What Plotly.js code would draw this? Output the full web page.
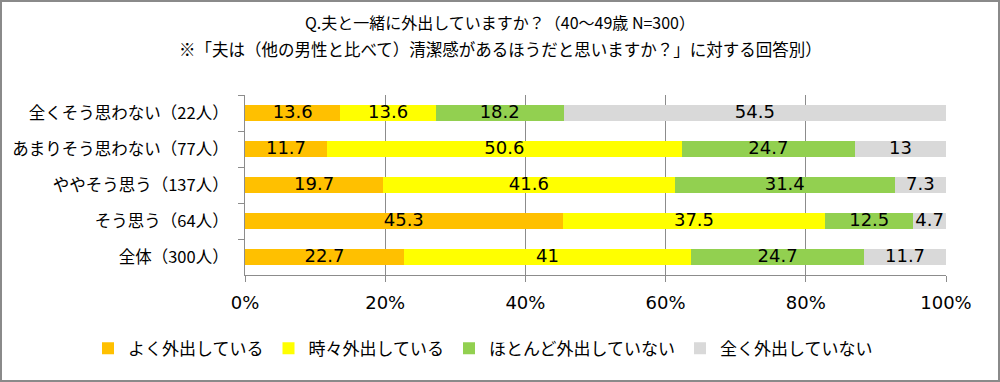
<!DOCTYPE html>
<html><head><meta charset="utf-8">
<script src="https://cdn.plot.ly/plotly-3.0.1.min.js"></script>
<style>html,body{margin:0;padding:0;background:#fff}#wrap{position:relative;width:1000px;height:382px}#frame{position:absolute;left:0;top:0;width:1000px;height:382px;box-sizing:border-box;border:2px solid #8a8a8a;pointer-events:none}</style>
</head><body><div id="wrap"><div id="chart" style="width:1000px;height:382px"></div><div id="frame"></div></div>
<script>
const titleLine1 = 'Q.夫と一緒に外出していますか？（40～49歳 N=300）';
const titleLine2 = '※「夫は（他の男性と比べて）清潔感があるほうだと思いますか？」に対する回答別）';
const categories = ['全くそう思わない（22人）','あまりそう思わない（77人）','ややそう思う（137人）','そう思う（64人）','全体（300人）'];
const seriesNames = ['よく外出している','時々外出している','ほとんど外出していない','全く外出していない'];
const often = [13.6, 11.7, 19.7, 45.3, 22.7];
const sometimes = [13.6, 50.6, 41.6, 37.5, 41];
const rarely = [18.2, 24.7, 31.4, 12.5, 24.7];
const never = [54.5, 13, 7.3, 4.7, 11.7];
const colors = ['#FFC000','#FFFF00','#92D050','#D9D9D9'];
const tickVals = [0,20,40,60,80,100];

const series = [often, sometimes, rarely, never];
const totals = categories.map((c,i)=>series.reduce((s,a)=>s+a[i],0));
const traces = [];
series.forEach((vals,k)=>{
  traces.push({type:'bar',orientation:'h',name:seriesNames[k],x:vals,y:categories,
    marker:{color:colors[k]},hoverinfo:'skip'});
});
series.forEach((vals,k)=>{
  const xs = vals.map((v,i)=>{
    let before=0; for(let j=0;j<k;j++) before+=series[j][i];
    return (before+v/2)/totals[i]*100;
  });
  traces.push({type:'scatter',mode:'text',x:xs,y:categories,text:vals.map(v=>String(v)),
    textposition:'middle center',textfont:{family:'DejaVu Sans, Verdana, sans-serif',size:18,color:'#000'},
    showlegend:false,hoverinfo:'skip'});
});
const layout = {
  width:1000,height:382,
  paper_bgcolor:'#fff',plot_bgcolor:'#fff',
  margin:{l:245,r:54,t:95,b:107},
  barmode:'stack',barnorm:'percent',bargap:0.55,
  title:{text:titleLine1,
    font:{family:'Noto Sans CJK JP',size:16,color:'#000'},x:0.5,xanchor:'center',xref:'container',y:1-23/382,yref:'container',yanchor:'middle'},
  annotations:[{text:titleLine2,xref:'paper',yref:'paper',x:(500-245)/701,y:1+(95-49)/180,xanchor:'center',yanchor:'middle',
    showarrow:false,font:{family:'Noto Sans CJK JP',size:16.5,color:'#000'}}],
  xaxis:{range:[0,100],tickvals:tickVals,ticktext:tickVals.map(v=>v+'%'),showgrid:true,gridcolor:'#8c8c8c',gridwidth:1,
    zeroline:false,showline:true,linecolor:'#8c8c8c',ticks:'outside',ticklen:6,tickcolor:'#8c8c8c',ticklabelstandoff:5,
    tickfont:{family:'DejaVu Sans, sans-serif',size:18,color:'#000'},fixedrange:true},
  yaxis:{type:'category',autorange:'reversed',showline:true,linecolor:'#8c8c8c',ticks:'outside',ticklen:6,tickcolor:'#8c8c8c',
    tickson:'boundaries',showgrid:false,tickfont:{family:'Noto Sans CJK JP',size:16.5,color:'#000'},ticklabelstandoff:12,fixedrange:true},
  showlegend:true,
  legend:{orientation:'h',x:(88-245)/701,xanchor:'left',y:-0.41,yanchor:'middle',font:{family:'Noto Sans CJK JP',size:17,color:'#000'},
    itemwidth:30,traceorder:'normal'},
};
Plotly.newPlot('chart',traces,layout,{displayModeBar:false,staticPlot:true});
</script></body></html>
